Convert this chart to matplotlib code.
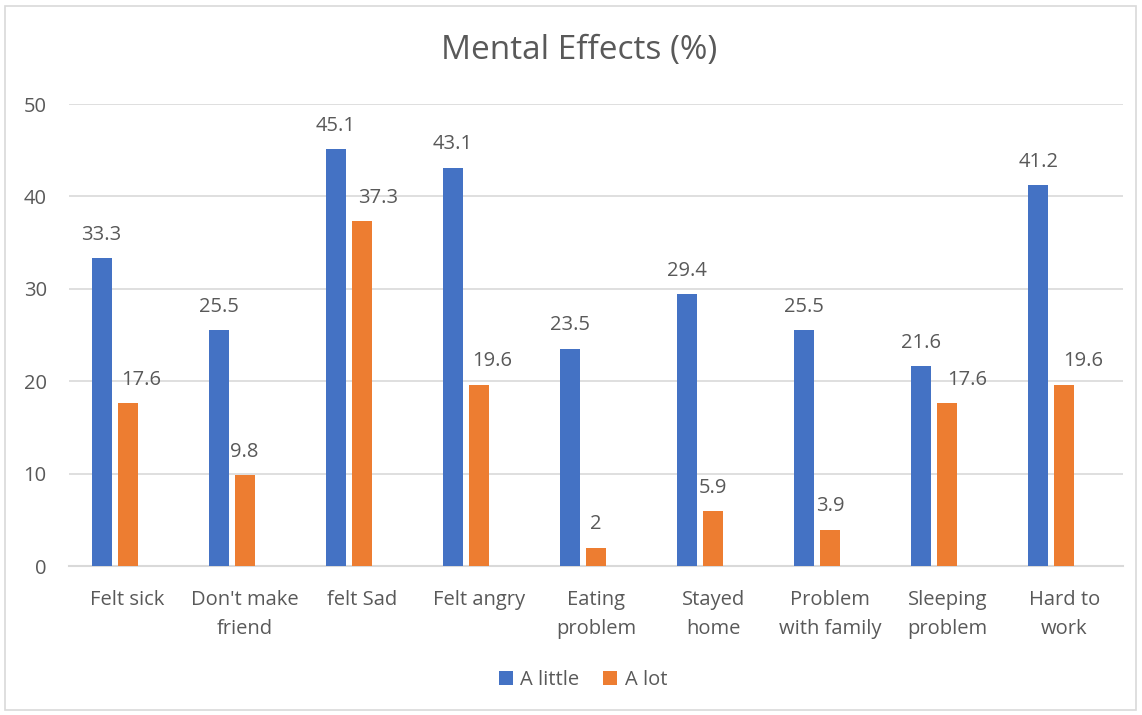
import matplotlib
matplotlib.use("Agg")
import matplotlib.pyplot as plt
import numpy as np
from matplotlib.patches import Rectangle

categories = ["Felt sick", "Don't make\nfriend", "felt Sad", "Felt angry", "Eating\nproblem",
              "Stayed\nhome", "Problem\nwith family", "Sleeping\nproblem", "Hard to\nwork"]
a_little = [33.3, 25.5, 45.1, 43.1, 23.5, 29.4, 25.5, 21.6, 41.2]
a_lot = [17.6, 9.8, 37.3, 19.6, 2, 5.9, 3.9, 17.6, 19.6]
series_names = ["A little", "A lot"]
y_ticks = [0, 10, 20, 30, 40, 50]

# horizontal nudge (points) of the "A lot" value labels, so they clear the blue bars
lot_label_nudge = [9.5, 0, 11.5, 9.5, 0, 0, 0, 14, 13.5]

BLUE = "#4472C4"
ORANGE = "#ED7D31"
TEXT = "#595959"
FONT = "Open Sans"
FS = 14.5

plt.rcParams["font.family"] = [FONT, "DejaVu Sans"]

fig = plt.figure(figsize=(11.42, 7.15), dpi=100)
ax = fig.add_axes([69 / 1142, 1 - 566 / 715, (1123 - 69) / 1142, (566 - 104) / 715])

x = np.arange(len(categories))
w = 0.171
step = 0.222
ax.bar(x - step, a_little, width=w, color=BLUE, label=series_names[0], zorder=3)
ax.bar(x, a_lot, width=w, color=ORANGE, label=series_names[1], zorder=3)

for xi, v in zip(x, a_little):
    ax.annotate(f"{v:g}", (xi - step, v), xytext=(0, 17), textcoords="offset points",
                ha="center", va="center", fontsize=FS, color=TEXT)
for xi, v, dx in zip(x, a_lot, lot_label_nudge):
    ax.annotate(f"{v:g}", (xi, v), xytext=(dx, 17), textcoords="offset points",
                ha="center", va="center", fontsize=FS, color=TEXT)

ax.set_xlim(-0.5, len(categories) - 0.5)
ax.set_ylim(0, 50)
ax.set_yticks(y_ticks)
ax.set_xticks(x)
ax.set_xticklabels(categories, linespacing=1.6)
ax.tick_params(axis="both", length=0, labelsize=FS, labelcolor=TEXT)
ax.tick_params(axis="y", pad=16)
ax.tick_params(axis="x", pad=17)
ax.grid(axis="y", color="#D9D9D9", linewidth=1.2, zorder=0)
for s in ["top", "right", "left"]:
    ax.spines[s].set_visible(False)
ax.spines["bottom"].set_color("#D9D9D9")
ax.spines["bottom"].set_linewidth(1.5)

fig.text(579 / 1142, 1 - 50 / 715, "Mental Effects (%)", ha="center", va="center",
         fontsize=24, color=TEXT)

leg = fig.legend(loc="center", bbox_to_anchor=(583 / 1142, 1 - 680 / 715), ncol=2,
                 frameon=False, fontsize=FS, handlelength=0.7, handleheight=0.7,
                 handletextpad=0.35, columnspacing=1.2)
for t in leg.get_texts():
    t.set_color(TEXT)

fig.patches.append(Rectangle((5 / 1142, 5 / 715), 1131 / 1142, 704 / 715,
                             transform=fig.transFigure, fill=False,
                             edgecolor="#D9D9D9", linewidth=1.2))

fig.savefig("out.png", dpi=100, facecolor="white")
